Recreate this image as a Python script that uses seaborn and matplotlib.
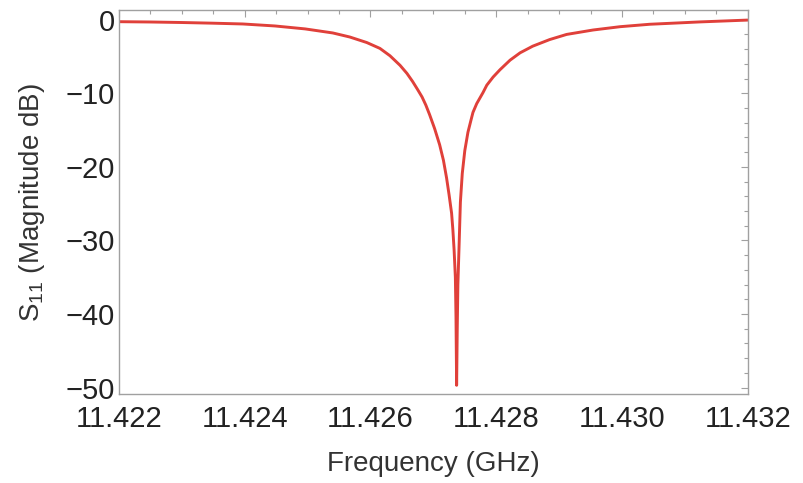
import matplotlib
matplotlib.use("Agg")
import matplotlib.pyplot as plt
from matplotlib.ticker import MultipleLocator, FormatStrFormatter
import seaborn as sns
import pandas as pd

# Measured reflection response around the cavity resonance
freq_ghz = [
    11.42200, 11.42249, 11.42299, 11.42348, 11.42397, 11.42448, 11.42496,
    11.42540, 11.42567, 11.42594, 11.42615, 11.42631, 11.42647, 11.42658,
    11.42667, 11.42675, 11.42682, 11.42688, 11.42694, 11.42702, 11.42710,
    11.42716, 11.42721, 11.42725, 11.42729, 11.42731, 11.42733, 11.42735,
    11.42736, 11.42737, 11.42738, 11.42739, 11.42741, 11.42743, 11.42746,
    11.42750, 11.42755, 11.42760, 11.42763, 11.42769, 11.42779, 11.42785,
    11.42795, 11.42806, 11.42822, 11.42838, 11.42858, 11.42885, 11.42912,
    11.42954, 11.42997, 11.43044, 11.43124, 11.43200,
]
s11_db = [
    -0.27, -0.31, -0.38, -0.47, -0.58, -0.85, -1.25,
    -1.80, -2.35, -3.10, -3.90, -4.90, -6.20, -7.30,
    -8.40, -9.50, -10.5, -11.6, -12.9, -14.8, -17.0,
    -19.1, -21.5, -23.8, -26.3, -28.5, -31.3, -35.0,
    -40.4, -49.7, -42.0, -36.0, -30.5, -24.8, -20.9,
    -17.8, -15.3, -13.6, -12.6, -11.4, -9.9, -8.9,
    -7.8, -6.8, -5.5, -4.5, -3.6, -2.7, -2.0,
    -1.40, -0.95, -0.62, -0.30, -0.05,
]

x_ticks = [11.422, 11.424, 11.426, 11.428, 11.430, 11.432]
y_ticks = [0, -10, -20, -30, -40, -50]

df = pd.DataFrame({"freq": freq_ghz, "s11": s11_db})

sns.set_theme(style="white")
plt.rcParams["font.family"] = ["Liberation Sans", "DejaVu Sans"]
plt.rcParams["mathtext.default"] = "regular"

fig = plt.figure(figsize=(8.04, 4.83), dpi=100)
ax = fig.add_axes([0.148, 0.184, 0.782, 0.795])

sns.lineplot(data=df, x="freq", y="s11", ax=ax, color="#e0403a",
             linewidth=2.1, sort=False, estimator=None)

ax.set_xlim(11.422, 11.432)
ax.set_ylim(-50.9, 1.3)
ax.set_xticks(x_ticks)
ax.set_yticks(y_ticks)
ax.xaxis.set_major_formatter(FormatStrFormatter("%.3f"))
ax.xaxis.set_minor_locator(MultipleLocator(0.0005))
ax.yaxis.set_minor_locator(MultipleLocator(2))

spine_col = "#a0a0a0"
for s in ax.spines.values():
    s.set_color(spine_col)
    s.set_linewidth(1.0)

ax.tick_params(which="both", direction="in", top=True, right=True,
               color=spine_col, width=0.8)
ax.tick_params(which="major", length=5)
ax.tick_params(which="minor", length=3)
ax.tick_params(axis="x", which="major", labelsize=21, pad=8, labelcolor="#222222")
ax.tick_params(axis="y", which="major", labelsize=21, pad=3, labelcolor="#222222")
ax.tick_params(labeltop=False, labelright=False)

ax.set_xlabel("Frequency (GHz)", fontsize=20, color="#333333", labelpad=13)
ax.set_ylabel("S$_{11}$ (Magnitude dB)", fontsize=20, color="#333333", labelpad=13)

fig.savefig("out.png", dpi=100)
